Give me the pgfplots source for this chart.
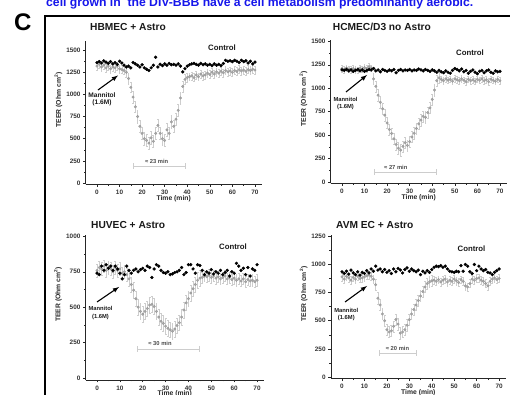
\documentclass[border=0pt]{standalone}
\usepackage{fontspec}
\setmainfont{Liberation Sans}
\usepackage{pgfplots}
\usepackage{pgfplotstable}
\pgfplotsset{compat=1.18}
\definecolor{hdrblue}{RGB}{22,22,235}
\definecolor{mgray}{RGB}{165,165,165}
\definecolor{egray}{RGB}{205,205,205}

\pgfplotstableread{
t c m e
0 1360 1320 45
1 1370 1340 45
2 1355 1310 45
3 1380 1330 45
4 1365 1300 45
5 1350 1320 45
6 1370 1290 45
7 1345 1310 45
8 1360 1300 45
9 1340 1320 45
10 1375 1290 45
11 1355 1280 45
12 1330 1270 45
13 1310 1250 55
14 1320 1180 60
15 1300 1080 60
16 1360 970 65
17 1345 860 65
18 1330 750 70
19 1310 640 70
20 1335 560 70
21 1300 500 70
22 1285 480 70
23 1270 450 70
24 1300 510 70
25 1330 470 70
26 1420 560 70
27 1310 650 70
28 1340 560 70
29 1325 500 70
30 1345 480 70
31 1330 600 70
32 1350 560 70
33 1335 690 70
34 1340 640 70
35 1330 720 70
36 1345 820 70
37 1320 960 65
38 1255 1090 60
39 1290 1170 55
40 1320 1190 50
41 1335 1200 45
42 1345 1210 45
43 1350 1190 45
44 1340 1220 45
45 1330 1200 45
46 1350 1230 45
47 1335 1210 45
48 1345 1220 45
49 1330 1240 45
50 1340 1225 45
51 1325 1250 45
52 1345 1230 45
53 1330 1255 45
54 1340 1240 45
55 1325 1260 45
56 1350 1245 45
57 1385 1270 45
58 1375 1255 45
59 1380 1265 45
60 1370 1250 45
61 1385 1270 45
62 1375 1260 45
63 1360 1280 45
64 1385 1265 45
65 1370 1275 45
66 1380 1260 45
67 1355 1280 45
68 1375 1270 45
69 1345 1285 45
70 1365 1275 45
}\TA

\pgfplotstableread{
t c m e
0 1195 1210 35
1 1190 1200 35
2 1200 1215 35
3 1185 1205 35
4 1195 1195 35
5 1180 1210 35
6 1190 1200 35
7 1200 1190 35
8 1185 1215 35
9 1195 1205 35
10 1180 1220 35
11 1190 1210 35
12 1200 1230 35
13 1195 1215 35
14 1210 1100 60
15 1185 1020 60
16 1195 926 60
17 1175 850 60
18 1200 780 60
19 1190 713 60
20 1180 630 60
21 1195 560 60
22 1185 518 60
23 1200 460 60
24 1165 400 60
25 1190 360 60
26 1200 340 60
27 1185 380 60
28 1195 420 60
29 1190 390 60
30 1200 430 60
31 1185 480 60
32 1195 520 60
33 1190 570 60
34 1205 620 60
35 1195 660 60
36 1185 700 60
37 1200 690 60
38 1190 740 60
39 1180 790 60
40 1195 880 60
41 1185 980 60
42 1170 1080 60
43 1190 1110 60
44 1175 1095 35
45 1165 1080 35
46 1185 1100 35
47 1170 1085 35
48 1160 1095 35
49 1190 1075 35
50 1210 1100 35
51 1200 1090 35
52 1185 1080 35
53 1205 1100 35
54 1175 1085 35
55 1190 1070 35
56 1160 1095 35
57 1180 1080 35
58 1195 1090 35
59 1170 1075 35
60 1155 1095 35
61 1180 1085 35
62 1190 1100 35
63 1165 1080 35
64 1185 1090 35
65 1195 1070 35
66 1170 1095 35
67 1160 1085 35
68 1185 1075 35
69 1175 1095 35
70 1180 1080 35
}\TB

\pgfplotstableread{
t c m e
0 740 760 45
1 730 780 45
2 790 770 45
3 760 790 45
4 800 760 45
5 775 780 45
6 790 770 45
7 760 750 45
8 790 780 45
9 770 760 45
10 740 770 45
11 700 740 45
12 730 750 45
13 790 730 45
14 760 700 55
15 740 660 55
16 760 620 55
17 770 560 55
18 750 500 55
19 765 470 55
20 775 450 55
21 760 470 55
22 790 490 55
23 780 515 55
24 710 520 55
25 770 505 55
26 800 470 55
27 790 430 55
28 760 400 55
29 745 385 55
30 740 365 55
31 750 350 55
32 730 340 55
33 735 330 55
34 745 345 55
35 750 370 55
36 760 390 55
37 780 430 55
38 730 480 55
39 745 530 55
40 800 560 55
41 800 600 55
42 770 630 55
43 740 660 55
44 800 690 55
45 795 705 55
46 760 710 40
47 730 720 40
48 750 715 40
49 740 725 40
50 765 710 40
51 735 720 40
52 750 705 40
53 740 715 40
54 760 700 40
55 730 710 40
56 745 720 40
57 760 700 40
58 720 710 40
59 750 695 40
60 740 705 40
61 810 690 40
62 790 700 40
63 760 685 40
64 775 700 40
65 730 680 40
66 780 695 40
67 720 685 40
68 770 690 40
69 760 680 40
70 800 690 40
}\TC

\pgfplotstableread{
t c m e
0 935 890 35
1 920 870 35
2 940 895 35
3 915 880 35
4 950 860 35
5 925 885 35
6 910 870 35
7 935 895 35
8 905 875 35
9 930 880 35
10 920 890 35
11 945 900 35
12 925 905 35
13 960 895 35
14 940 870 35
15 985 820 50
16 950 700 50
17 960 640 50
18 935 560 50
19 955 500 50
20 930 420 50
21 945 400 50
22 920 410 50
23 960 450 50
24 935 510 50
25 965 470 50
26 950 390 50
27 925 400 50
28 955 420 50
29 970 460 50
30 940 510 50
31 960 560 50
32 945 600 50
33 935 640 50
34 950 680 50
35 910 720 50
36 940 760 50
37 925 800 50
38 945 830 50
39 930 845 50
40 955 855 50
41 975 860 35
42 985 850 35
43 980 865 35
44 990 845 35
45 975 860 35
46 985 870 35
47 960 845 35
48 940 860 35
49 935 850 35
50 930 870 35
51 940 855 35
52 935 840 35
53 990 865 35
54 940 850 35
55 1000 810 35
56 985 800 35
57 935 830 35
58 920 870 35
59 1000 860 35
60 945 875 35
61 985 880 35
62 960 860 35
63 945 850 35
64 955 830 35
65 930 810 35
66 925 850 35
67 910 870 35
68 930 880 35
69 945 865 35
70 960 875 35
}\TD

\pgfplotsset{
  panel/.style={
    scale only axis, width=176pt, height=143pt,
    anchor=south west,
    axis x line*=bottom, axis y line*=left,
    axis line style={-, line width=0.6pt, black!85},
    xmin=-5, xmax=73, xtick={0,10,...,70},
    minor x tick num=1, minor y tick num=1,
    tick align=outside, major tick length=2.5pt, minor tick length=1.5pt,
    every tick/.style={line width=0.5pt, black!85},
    /pgf/number format/1000 sep={},
    /pgf/number format/assume math mode=true,
    ticklabel style={font=\fontsize{6.4}{7}\selectfont\bfseries, text=black!80},
    xticklabel style={anchor=north, inner sep=0pt, yshift=-3pt},
    yticklabel style={anchor=east, inner sep=0pt, xshift=-2.5pt},
    xlabel={Time (min)},
    ylabel={TEER (Ohm cm\textsuperscript{2})},
    label style={font=\fontsize{6.8}{7}\selectfont\bfseries, text=black!85},
    xlabel style={at={(axis description cs:0.5,-0.098)}, anchor=center, inner sep=0pt},
    ylabel style={at={(axis description cs:-0.155,0.59)}, anchor=center, inner sep=0pt},
  },
  mann/.style={only marks, mark=*, mark size=1.35pt, color=mgray,
    mark options={fill=mgray, draw=mgray!90!black, line width=0.2pt},
    error bars/.cd, y dir=both, y explicit,
    error bar style={egray, line width=0.4pt},
    error mark options={rotate=90, egray, mark size=0.9pt, line width=0.4pt}},
  ctrl/.style={only marks, mark=*, mark size=1.45pt, color=black,
    mark options={fill=black}},
}

\begin{document}
\begin{tikzpicture}
\path[use as bounding box] (0pt,0pt) rectangle (510pt,395pt);

% header text and panel letter
\node[anchor=base west, inner sep=0pt, text=hdrblue, font=\fontsize{12.2}{13}\selectfont\bfseries]
  at (46pt,388pt) {cell grown in\ \ the DIV-BBB have a cell metabolism predominantly aerobic.};
\node[anchor=base west, inner sep=0pt, font=\fontsize{24}{24}\selectfont\bfseries] at (13.8pt,364.3pt) {C};
\draw[line width=1.3pt] (45pt,-5pt) -- (45pt,379pt) -- (520pt,379pt);

% Panel 1
\begin{axis}[panel, at={(85.7pt,210.7pt)}, ymin=-15, ymax=1600, ytick={0,250,...,1500}]
\addplot[mann] table[x=t, y=m, y error=e]{\TA};
\addplot[ctrl] table[x=t, y=c]{\TA};
\end{axis}

% Panel 2
\begin{axis}[panel, at={(330.7pt,211.6pt)}, ymin=-15, ymax=1510, ytick={0,250,...,1500}]
\addplot[mann] table[x=t, y=m, y error=e]{\TB};
\addplot[ctrl] table[x=t, y=c]{\TB};
\end{axis}

% Panel 3
\begin{axis}[panel, at={(85.6pt,15pt)}, width=178.3pt, height=145pt, ymin=-15, ymax=1010, ytick={0,250,...,1000}]
\addplot[mann] table[x=t, y=m, y error=e]{\TC};
\addplot[ctrl] table[x=t, y=c]{\TC};
\end{axis}

% Panel 4
\begin{axis}[panel, at={(330.8pt,16.3pt)}, width=175pt, height=143.5pt, ymin=-15, ymax=1260, ytick={0,250,...,1250}]
\addplot[mann] table[x=t, y=m, y error=e]{\TD};
\addplot[ctrl] table[x=t, y=c]{\TD};
\end{axis}

% titles
\begin{scope}[every node/.style={inner sep=0pt, text=black!90}]
\node[anchor=west, font=\fontsize{10.2}{11}\selectfont\bfseries] at (90pt,368pt) {HBMEC + Astro};
\node[anchor=west, font=\fontsize{10.2}{11}\selectfont\bfseries] at (332.7pt,368pt) {HCMEC/D3 no Astro};
\node[anchor=west, font=\fontsize{10.2}{11}\selectfont\bfseries] at (91pt,170pt) {HUVEC + Astro};
\node[anchor=west, font=\fontsize{10.2}{11}\selectfont\bfseries] at (336pt,170pt) {AVM EC + Astro};
% Control labels
\node[font=\fontsize{7.8}{8}\selectfont\bfseries] at (222pt,347.3pt) {Control};
\node[font=\fontsize{7.8}{8}\selectfont\bfseries] at (470pt,342.3pt) {Control};
\node[font=\fontsize{7.8}{8}\selectfont\bfseries] at (233pt,148.3pt) {Control};
\node[font=\fontsize{7.8}{8}\selectfont\bfseries] at (471.5pt,146.7pt) {Control};
% Mannitol labels
\node[font=\fontsize{6.6}{7}\selectfont\bfseries] at (102pt,300pt) {Mannitol};
\node[font=\fontsize{6.6}{7}\selectfont\bfseries] at (102pt,292pt) {(1.6M)};
\node[font=\fontsize{5.8}{6}\selectfont\bfseries] at (345.5pt,295.7pt) {Mannitol};
\node[font=\fontsize{5.8}{6}\selectfont\bfseries] at (345.5pt,288.3pt) {(1.6M)};
\node[font=\fontsize{5.8}{6}\selectfont\bfseries] at (100.5pt,86.3pt) {Mannitol};
\node[font=\fontsize{5.8}{6}\selectfont\bfseries] at (100.5pt,77.7pt) {(1.6M)};
\node[font=\fontsize{5.8}{6}\selectfont\bfseries] at (346.3pt,85pt) {Mannitol};
\node[font=\fontsize{5.8}{6}\selectfont\bfseries] at (346.3pt,77.3pt) {(1.6M)};
% duration texts
\node[font=\fontsize{5.8}{6}\selectfont\bfseries, text=black!70] at (156.7pt,234pt) {≈ 23 min};
\node[font=\fontsize{5.8}{6}\selectfont\bfseries, text=black!70] at (395.8pt,228pt) {≈ 27 min};
\node[font=\fontsize{5.8}{6}\selectfont\bfseries, text=black!70] at (160pt,52pt) {≈ 30 min};
\node[font=\fontsize{5.8}{6}\selectfont\bfseries, text=black!70] at (397.5pt,47pt) {≈ 20 min};
\end{scope}

% duration bars
\draw[egray, line width=0.6pt, |-|] (133pt,229pt) -- (186pt,229pt);
\draw[egray, line width=0.6pt, |-|] (374pt,223pt) -- (437pt,223pt);
\draw[egray, line width=0.6pt, |-|] (137pt,46pt) -- (200pt,46pt);
\draw[egray, line width=0.6pt, |-|] (379pt,42pt) -- (417pt,42pt);

% arrows
\draw[-latex, line width=1.1pt] (98pt,305pt) -- (118pt,319.5pt);
\draw[-latex, line width=1.1pt] (346pt,303pt) -- (367pt,320pt);
\draw[-latex, line width=1.1pt] (97pt,93pt) -- (119pt,108pt);
\draw[-latex, line width=1.1pt] (345pt,93pt) -- (367pt,109pt);
\end{tikzpicture}
\end{document}
